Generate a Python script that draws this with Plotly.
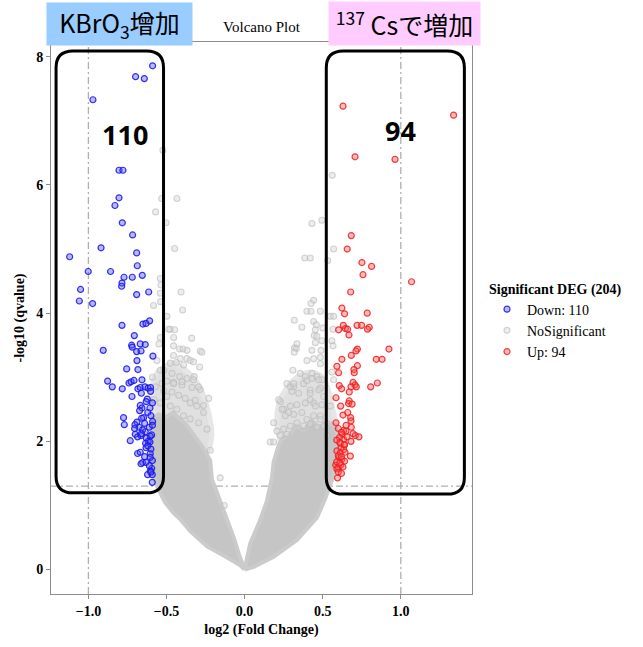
import plotly.graph_objects as go

# ---- data: log2 fold change vs -log10(q value) ----
DOWN_LOG2FC = [
    -0.589, -0.698, -0.642, -0.971, -0.804, -0.779, -0.804, -0.830, -0.783, -0.717,
    -0.919, -0.691, -1.120, -0.687, -0.858, -1.001, -0.772, -0.719, -0.655, -0.785,
    -0.787, -1.050, -0.691, -0.614, -1.058, -0.973, -0.785, -0.651, -0.631, -0.608,
    -0.706, -0.723, -0.719, -0.668, -0.636, -0.691, -0.663, -0.905, -0.587, -0.689,
    -0.755, -0.683, -0.877, -0.847, -0.783, -0.740, -0.727, -0.708, -0.657, -0.683,
    -0.668, -0.638, -0.618, -0.602, -0.602, -0.661, -0.721, -0.623, -0.668, -0.657,
    -0.672, -0.606, -0.647, -0.659, -0.775, -0.770, -0.689, -0.702, -0.589, -0.676,
    -0.704, -0.653, -0.636, -0.595, -0.604, -0.700, -0.685, -0.663, -0.732, -0.629,
    -0.617, -0.634, -0.606, -0.631, -0.685, -0.668, -0.604, -0.604, -0.653, -0.631,
    -0.663, -0.595, -0.604, -0.621, -0.591, -0.591, -0.620, -0.600, -0.640, -0.610,
    -0.590, -0.660, -0.620, -0.600, -0.640, -0.590, -0.610, -0.600, -0.630, -0.590,
]
DOWN_NLOGQ = [
    7.86, 7.69, 7.66, 7.33, 6.23, 6.23, 5.80, 5.68, 5.41, 5.22,
    5.02, 4.94, 4.88, 4.74, 4.65, 4.65, 4.56, 4.56, 4.59, 4.47,
    4.42, 4.37, 4.29, 4.33, 4.19, 4.15, 3.81, 3.83, 3.84, 3.88,
    3.65, 3.50, 3.47, 3.52, 3.51, 3.40, 3.41, 3.42, 3.33, 3.26,
    3.13, 3.12, 2.94, 2.85, 2.82, 2.91, 2.93, 2.95, 2.96, 2.82,
    2.84, 2.85, 2.83, 2.84, 2.78, 2.75, 2.70, 2.66, 2.56, 2.52,
    2.48, 2.52, 2.37, 2.36, 2.37, 2.26, 2.30, 2.26, 2.31, 2.22,
    2.20, 2.18, 2.15, 2.10, 2.08, 2.11, 2.07, 2.09, 2.01, 2.05,
    2.00, 1.97, 1.99, 1.90, 1.81, 1.83, 1.81, 1.75, 1.67, 1.67,
    1.65, 1.58, 1.54, 1.48, 1.48, 1.36, 2.45, 2.40, 2.28, 2.22,
    2.25, 2.12, 1.93, 1.88, 1.76, 1.70, 1.62, 1.52, 2.62, 2.60,
]

UP_LOG2FC = [
    0.630, 1.338, 0.707, 0.963, 0.683, 0.657, 0.751, 0.813, 0.758, 1.069,
    0.679, 0.623, 0.640, 0.785, 0.632, 0.645, 0.602, 0.659, 0.720, 0.749,
    0.798, 0.787, 0.668, 0.924, 0.722, 0.713, 0.683, 0.623, 0.843, 0.880,
    0.722, 0.591, 0.700, 0.702, 0.602, 0.694, 0.707, 0.715, 0.850, 0.807,
    0.606, 0.621, 0.681, 0.670, 0.585, 0.670, 0.666, 0.688, 0.615, 0.630,
    0.679, 0.681, 0.683, 0.585, 0.694, 0.709, 0.732, 0.634, 0.649, 0.625,
    0.608, 0.634, 0.656, 0.681, 0.613, 0.638, 0.617, 0.634, 0.591, 0.613,
    0.643, 0.677, 0.604, 0.623, 0.640, 0.583, 0.600, 0.617, 0.591, 0.595,
    0.600, 0.620, 0.590, 0.610, 0.640, 0.600, 0.620, 0.590, 0.610, 0.630,
    0.600, 0.620, 0.650, 0.660,
]
UP_NLOGQ = [
    7.23, 7.09, 6.44, 6.40, 5.21, 5.00, 4.79, 4.73, 4.60, 4.49,
    4.33, 4.08, 3.99, 4.00, 3.81, 3.76, 3.74, 3.75, 3.81, 3.81,
    3.78, 3.75, 3.66, 3.44, 3.44, 3.41, 3.34, 3.28, 3.28, 3.28,
    3.18, 3.17, 3.12, 3.07, 3.07, 2.92, 2.88, 2.85, 2.91, 2.85,
    2.87, 2.82, 2.85, 2.77, 2.68, 2.63, 2.59, 2.58, 2.55, 2.41,
    2.37, 2.32, 2.22, 2.29, 2.12, 2.09, 2.07, 2.17, 2.16, 2.11,
    2.06, 2.03, 2.07, 2.00, 1.97, 1.94, 1.90, 1.87, 1.85, 1.82,
    1.83, 1.77, 1.75, 1.72, 1.69, 1.63, 1.59, 1.63, 1.57, 1.43,
    2.20, 2.14, 2.02, 1.98, 1.95, 1.78, 1.76, 1.68, 1.66, 1.60,
    1.52, 1.50, 2.25, 2.45,
]

# non-significant genes outside the dense core
NS_LOG2FC = [
    -0.523, -0.531, -0.433, -0.570, -0.503, -0.448, -0.535, -0.540, -0.407, -0.540,
    -0.583, -0.538, -0.397, -0.497, -0.476, -0.448, -0.540, -0.339, -0.548, -0.455,
    -0.416, -0.394, -0.369, -0.284, -0.273, -0.455, -0.412, -0.369, -0.348, -0.327,
    -0.476, -0.437, -0.390, -0.288, -0.518, -0.465, -0.416, -0.369, -0.322, -0.230,
    -0.497, -0.455, -0.401, -0.337, -0.284, -0.518, -0.465, -0.422, -0.380, -0.316,
    -0.263, -0.401, -0.327, -0.295, -0.348, -0.305, -0.263, -0.476, -0.433, -0.391,
    -0.348, -0.295, -0.241, -0.220, -0.156, -0.130, -0.486, -0.454, -0.561, -0.540,
    -0.529, -0.497, -0.540, -0.454, -0.580, -0.570, -0.590,
    0.561, 0.431, 0.495, 0.570, 0.385, 0.421, 0.532, 0.442, 0.425, 0.399,
    0.425, 0.501, 0.318, 0.367, 0.442, 0.459, 0.453, 0.446, 0.463, 0.320,
    0.335, 0.495, 0.399, 0.442, 0.485, 0.309, 0.356, 0.388, 0.431, 0.463,
    0.495, 0.271, 0.314, 0.378, 0.420, 0.485, 0.229, 0.250, 0.282, 0.485,
    0.549, 0.570, 0.566, 0.559, 0.566, 0.431, 0.485, 0.559, 0.474, 0.570,
    0.506, 0.442, 0.548, 0.485, 0.527, 0.293, 0.314, 0.399, 0.431, 0.303,
    0.346, 0.420, 0.474, 0.218, 0.239, 0.261, 0.293, 0.335, 0.389, 0.420,
    0.453, 0.495, 0.314, 0.367, 0.399, 0.442, 0.485, 0.186, 0.164, 0.186,
    0.207, 0.250, 0.293, 0.335, 0.378, 0.420, 0.463, 0.506, 0.229, 0.271,
    0.331, 0.318, 0.489, 0.453,
]
NS_NLOGQ = [
    6.54, 5.79, 5.79, 5.58, 5.41, 5.01, 4.44, 4.54, 4.33, 4.31,
    4.12, 4.18, 4.05, 3.95, 3.75, 3.74, 3.62, 3.61, 3.52, 3.49,
    3.44, 3.44, 3.42, 3.41, 3.39, 3.34, 3.29, 3.29, 3.26, 3.24,
    3.22, 3.23, 3.19, 3.16, 3.11, 3.06, 3.01, 2.98, 3.01, 2.67,
    2.94, 2.92, 2.88, 2.84, 2.81, 2.79, 2.77, 2.72, 2.67, 2.64,
    2.56, 2.93, 2.96, 2.85, 2.60, 2.55, 2.45, 2.55, 2.50, 2.40,
    2.35, 2.29, 2.19, 1.86, 1.43, 1.00, 3.75, 3.62, 3.26, 3.11,
    2.90, 2.70, 2.60, 2.90, 2.65, 2.85, 3.00,
    6.15, 5.40, 5.45, 5.00, 4.86, 4.86, 4.82, 4.20, 4.15, 4.03,
    4.03, 3.77, 3.89, 3.78, 3.87, 3.82, 3.74, 3.65, 3.64, 3.46,
    3.52, 3.57, 3.26, 3.29, 3.31, 3.11, 3.06, 3.01, 3.06, 3.01,
    2.96, 2.90, 2.85, 2.90, 2.80, 2.83, 2.62, 2.50, 2.45, 4.03,
    3.95, 3.95, 3.75, 3.57, 3.49, 3.42, 3.21, 3.08, 2.96, 2.96,
    2.70, 2.60, 2.55, 2.40, 2.09, 2.85, 2.90, 2.95, 2.98, 2.78,
    2.75, 2.75, 2.80, 2.65, 2.50, 2.40, 2.55, 2.57, 2.60, 2.65,
    2.55, 2.57, 2.42, 2.45, 2.34, 2.40, 2.34, 2.29, 1.99, 1.99,
    2.16, 2.19, 2.24, 2.29, 2.24, 2.27, 2.22, 2.24, 2.09, 2.11,
    3.45, 3.39, 3.42, 3.54,
]

# outline of the densely packed non-significant genes (each arm of the V)
CORE_LEFT_X = [0.0, -0.03, -0.134, -0.24, -0.348, -0.41, -0.454, -0.51, -0.56, -0.59,
               -0.60, -0.60, -0.59, -0.55, -0.50, -0.46, -0.42, -0.38, -0.34, -0.30,
               -0.26, -0.22, -0.209, -0.18, -0.145, -0.11, -0.07, -0.03, 0.0]
CORE_LEFT_Y = [0.0, 0.07, 0.22, 0.36, 0.60, 0.78, 0.88, 1.05, 1.30, 1.55,
               1.80, 2.10, 2.35, 2.42, 2.38, 2.45, 2.36, 2.28, 2.15, 2.02,
               1.88, 1.70, 1.40, 1.22, 1.00, 0.78, 0.50, 0.19, 0.0]
CORE_RIGHT_X = [0.0, 0.058, 0.186, 0.335, 0.463, 0.517, 0.56, 0.59, 0.60, 0.58,
                0.53, 0.48, 0.43, 0.38, 0.33, 0.28, 0.24, 0.218, 0.186, 0.175,
                0.143, 0.10, 0.036, 0.01, 0.0]
CORE_RIGHT_Y = [0.0, 0.04, 0.20, 0.46, 0.81, 1.11, 1.40, 1.70, 2.00, 2.25,
                2.30, 2.22, 2.32, 2.18, 2.24, 2.08, 2.04, 1.94, 1.68, 1.43,
                1.07, 0.77, 0.41, 0.10, 0.0]

# outline of the looser band of genes just above the dense core
BAND_LEFT_X = [-0.58, -0.585, -0.55, -0.50, -0.45, -0.40, -0.35, -0.30, -0.26, -0.23,
               -0.21, -0.24, -0.32, -0.42, -0.52]
BAND_LEFT_Y = [2.20, 2.95, 3.10, 3.18, 3.22, 3.15, 3.05, 2.90, 2.70, 2.45,
               2.10, 1.85, 2.05, 2.30, 2.35]
BAND_RIGHT_X = [0.23, 0.205, 0.22, 0.26, 0.31, 0.37, 0.43, 0.49, 0.53, 0.56,
                0.58, 0.50, 0.40, 0.30]
BAND_RIGHT_Y = [1.98, 2.30, 2.60, 2.80, 2.95, 3.05, 3.08, 3.02, 2.85, 2.55,
                2.20, 2.25, 2.25, 2.15]

X_TICKS = [-1.0, -0.5, 0.0, 0.5, 1.0]
Y_TICKS = [0, 2, 4, 6, 8]
FC_CUTOFF = 1.0
NLOGQ_CUTOFF = 1.301  # -log10(0.05)

# highlighted regions around the up / down groups
BOX_DOWN = (-1.207, -0.519, 1.197, 8.09)
BOX_UP = (0.523, 1.407, 1.177, 8.09)

# ---- layout geometry ----
W, H = 643, 647
M_L, M_R, M_T, M_B = 51, 171, 42, 42
X_RANGE = [-1.2394, 1.4558]
Y_RANGE = [-0.382, 8.231]
PLOT_W = W - M_L - M_R
PLOT_H = H - M_T - M_B

SERIF = "Liberation Serif, Times New Roman, serif"
CJK = "Noto Sans CJK JP, Noto Sans, sans-serif"


def rounded_path(x0, x1, y0, y1, r_px=17):
    rx = r_px * (X_RANGE[1] - X_RANGE[0]) / PLOT_W
    ry = r_px * (Y_RANGE[1] - Y_RANGE[0]) / PLOT_H
    return (f"M {x0 + rx},{y1} L {x1 - rx},{y1} Q {x1},{y1} {x1},{y1 - ry} "
            f"L {x1},{y0 + ry} Q {x1},{y0} {x1 - rx},{y0} "
            f"L {x0 + rx},{y0} Q {x0},{y0} {x0},{y0 + ry} "
            f"L {x0},{y1 - ry} Q {x0},{y1} {x0 + rx},{y1} Z")


def px_x(px):
    return (px - M_L) / PLOT_W


def px_y(py):
    return (H - M_B - py) / PLOT_H


fig = go.Figure()

band_color = "rgb(224,224,224)"
for bx, by in ((BAND_LEFT_X, BAND_LEFT_Y), (BAND_RIGHT_X, BAND_RIGHT_Y)):
    fig.add_trace(go.Scatter(
        x=bx, y=by, mode="lines", fill="toself", fillcolor=band_color,
        line=dict(color="rgb(230,230,230)", width=5, shape="spline"),
        showlegend=False, hoverinfo="skip",
    ))

core_color = "rgb(197,197,197)"
for cx, cy in ((CORE_LEFT_X, CORE_LEFT_Y), (CORE_RIGHT_X, CORE_RIGHT_Y)):
    fig.add_trace(go.Scatter(
        x=cx, y=cy, mode="lines", fill="toself", fillcolor=core_color,
        line=dict(color="rgb(203,203,203)", width=4), showlegend=False, hoverinfo="skip",
    ))

fig.add_trace(go.Scatter(
    x=NS_LOG2FC, y=NS_NLOGQ, mode="markers", name="NoSignificant", legendrank=2,
    marker=dict(size=6, color="rgba(215,215,215,0.45)",
                line=dict(color="rgba(185,185,185,0.6)", width=1.1)),
))
fig.add_trace(go.Scatter(
    x=DOWN_LOG2FC, y=DOWN_NLOGQ, mode="markers", name=f"Down: {len(DOWN_LOG2FC)}",
    legendrank=1,
    marker=dict(size=6, color="rgba(80,80,255,0.40)",
                line=dict(color="rgba(20,20,235,0.85)", width=1.2)),
))
fig.add_trace(go.Scatter(
    x=UP_LOG2FC, y=UP_NLOGQ, mode="markers", name=f"Up: {len(UP_LOG2FC)}", legendrank=3,
    marker=dict(size=6, color="rgba(255,90,90,0.40)",
                line=dict(color="rgba(240,30,30,0.85)", width=1.2)),
))

line_style = dict(color="rgb(175,175,175)", width=1.3, dash="7px,3px,2px,3px")
shapes = [
    dict(type="line", xref="x", yref="paper", x0=-FC_CUTOFF, x1=-FC_CUTOFF, y0=0, y1=1,
         line=line_style, layer="below"),
    dict(type="line", xref="x", yref="paper", x0=FC_CUTOFF, x1=FC_CUTOFF, y0=0, y1=1,
         line=line_style, layer="below"),
    dict(type="line", xref="paper", yref="y", x0=0, x1=1, y0=NLOGQ_CUTOFF, y1=NLOGQ_CUTOFF,
         line=line_style, layer="below"),
]
for bx in (BOX_DOWN, BOX_UP):
    shapes.append(dict(type="path", xref="x", yref="y", path=rounded_path(*bx),
                       line=dict(color="black", width=3), layer="above"))

annotations = [
    dict(text="<b>110</b>", x=-0.767, y=6.79, xref="x", yref="y", showarrow=False,
         font=dict(family="Noto Sans, sans-serif", size=27, color="black")),
    dict(text="<b>94</b>", x=0.997, y=6.85, xref="x", yref="y", showarrow=False,
         font=dict(family="Noto Sans, sans-serif", size=27, color="black")),
    dict(text="KBrO<sub>3</sub>增加", x=px_x(119.5), y=px_y(24),
         xref="paper", yref="paper", xanchor="center", yanchor="middle",
         showarrow=False, width=145, height=42,
         bgcolor="rgb(153,204,255)", borderpad=0,
         font=dict(family=CJK, size=25, color="black")),
    dict(text="<sup>137</sup> Csで増加", x=px_x(404), y=px_y(23.5),
         xref="paper", yref="paper", xanchor="center", yanchor="middle",
         showarrow=False, width=151, height=43,
         bgcolor="rgb(255,204,255)", borderpad=0,
         font=dict(family=CJK, size=25, color="black")),
]

axis_common = dict(
    showgrid=False, zeroline=False, showline=True, linecolor="rgb(140,140,140)",
    linewidth=1, mirror=True, ticks="outside", ticklen=4, tickcolor="rgb(140,140,140)",
    tickfont=dict(family=SERIF, size=14, color="black", weight="bold"),
)

fig.update_layout(
    width=W, height=H,
    margin=dict(l=M_L, r=M_R, t=M_T, b=M_B),
    paper_bgcolor="white", plot_bgcolor="white",
    title=dict(text="Volcano Plot", x=261.5 / W, xanchor="center",
               y=1 - 27 / H, yanchor="middle",
               font=dict(family=SERIF, size=15, color="black")),
    xaxis=dict(range=X_RANGE, tickvals=X_TICKS, tickformat=".1f",
               title=dict(text="log2 (Fold Change)", standoff=6,
                          font=dict(family=SERIF, size=14, color="black", weight="bold")),
               **axis_common),
    yaxis=dict(range=Y_RANGE, tickvals=Y_TICKS, tickformat="d",
               title=dict(text="-log10 (qvalue)", standoff=8,
                          font=dict(family=SERIF, size=14, color="black", weight="bold")),
               **axis_common),
    legend=dict(
        x=px_x(487), xanchor="left", y=px_y(280), yanchor="top",
        title=dict(text="<b>Significant DEG (%d)</b>" % (len(DOWN_LOG2FC) + len(UP_LOG2FC)),
                   font=dict(family=SERIF, size=14, color="black")),
        font=dict(family=SERIF, size=14, color="black"),
        itemwidth=30, bgcolor="rgba(0,0,0,0)", tracegroupgap=0,
    ),
    shapes=shapes,
    annotations=annotations,
)

fig.write_html("out.html")
